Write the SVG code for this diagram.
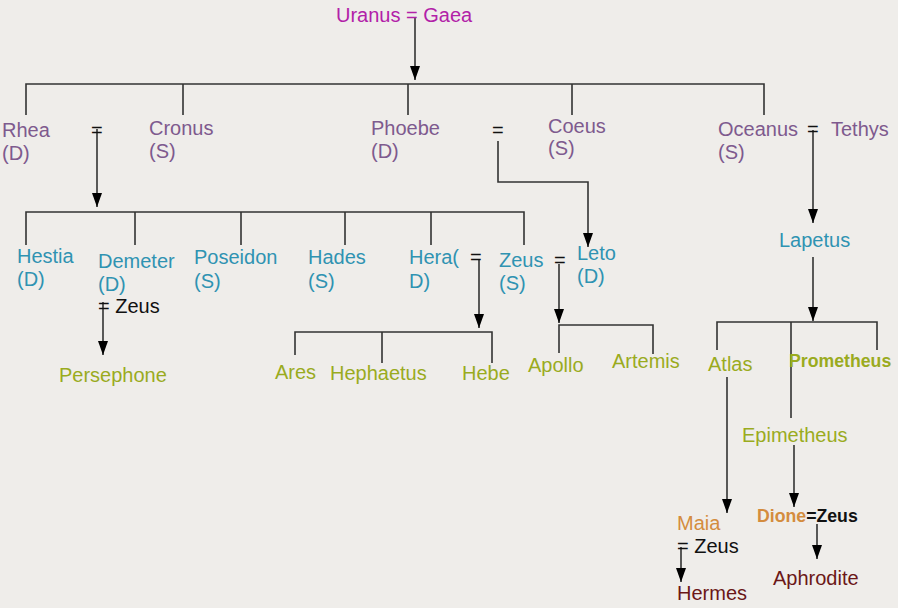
<svg xmlns="http://www.w3.org/2000/svg" width="898" height="608" viewBox="0 0 898 608">
<style>
text{font-family:"Liberation Sans",Arial,sans-serif;font-size:20px}
.g1{fill:#7e5a8e}
.g2{fill:#2f93b2}
.g3{fill:#9aab1e}
.mag{fill:#b221a8}
.blk{fill:#111}
.or{fill:#d48c3e}
.dr{fill:#6b1717}
.b{font-weight:bold;font-size:17.7px}
.c line,.c path{stroke:#333;stroke-width:1.6;fill:none}
.a{marker-end:url(#ah)}
</style>
<defs>
<marker id="ah" viewBox="0 0 14 10" refX="14" refY="5" markerWidth="14" markerHeight="10" markerUnits="userSpaceOnUse" orient="auto">
<path d="M0,0 L14,5 L0,10 z" fill="#000"/>
</marker>
</defs>
<rect width="898" height="608" fill="#efedea"/>
<g id="connectors" class="c">
<line class="a" x1="415" y1="18" x2="415" y2="80"/>
<path d="M26,115 V84 H764 V115 M183,84 V115 M408,84 V115 M572,84 V115"/>
<line class="a" x1="97" y1="129" x2="97" y2="207"/>
<path class="a" d="M498,141 V182 H588 V247"/>
<line class="a" x1="813" y1="130" x2="813" y2="223"/>
<path d="M26,245 V212 H524 V245 M135,212 V245 M241,212 V245 M345,212 V245 M431,212 V245"/>
<line class="a" x1="103" y1="302" x2="103" y2="355"/>
<line class="a" x1="479" y1="260" x2="479" y2="328"/>
<path d="M295,355 V332 H492 V363 M382,332 V363"/>
<line class="a" x1="559" y1="264" x2="559" y2="323"/>
<path d="M559,353 V325 H653 V354"/>
<line class="a" x1="813" y1="257" x2="813" y2="321"/>
<path d="M717,350 V322 H877 V350 M791,322 V418"/>
<line class="a" x1="727" y1="377" x2="727" y2="513"/>
<line class="a" x1="794" y1="445" x2="794" y2="507"/>
<line class="a" x1="681" y1="547" x2="681" y2="582"/>
<line class="a" x1="817" y1="524" x2="817" y2="559"/>
</g>
<g id="uranus-gaea"><text class="mag" x="336" y="22">Uranus = Gaea</text></g>
<g id="rhea"><text class="g1" x="2" y="137">Rhea</text><text class="g1" x="2" y="160">(D)</text></g>
<g id="rhea-eq"><text class="blk" x="91" y="137">=</text></g>
<g id="cronus"><text class="g1" x="149" y="135">Cronus</text><text class="g1" x="149" y="158">(S)</text></g>
<g id="phoebe"><text class="g1" x="371" y="135">Phoebe</text><text class="g1" x="371" y="158">(D)</text></g>
<g id="phoebe-eq"><text class="blk" x="492" y="137">=</text></g>
<g id="coeus"><text class="g1" x="548" y="133">Coeus</text><text class="g1" x="548" y="155">(S)</text></g>
<g id="oceanus"><text class="g1" x="718" y="136">Oceanus</text><text class="g1" x="718" y="159">(S)</text><text class="blk" x="807" y="136">=</text><text class="g1" x="831" y="136">Tethys</text></g>
<g id="hestia"><text class="g2" x="17" y="263">Hestia</text><text class="g2" x="17" y="286">(D)</text></g>
<g id="demeter"><text class="g2" x="98" y="268">Demeter</text><text class="g2" x="98" y="291">(D)</text><text class="blk" x="98" y="313">= Zeus</text></g>
<g id="poseidon"><text class="g2" x="194" y="264">Poseidon</text><text class="g2" x="194" y="288">(S)</text></g>
<g id="hades"><text class="g2" x="308" y="264">Hades</text><text class="g2" x="308" y="288">(S)</text></g>
<g id="hera"><text class="g2" x="409" y="264">Hera(</text><text class="g2" x="409" y="288">D)</text><text class="blk" x="470" y="264">=</text></g>
<g id="zeus"><text class="g2" x="499" y="267">Zeus</text><text class="g2" x="499" y="290">(S)</text><text class="blk" x="554" y="267">=</text></g>
<g id="leto"><text class="g2" x="577" y="260">Leto</text><text class="g2" x="577" y="283">(D)</text></g>
<g id="lapetus"><text class="g2" x="779" y="247">Lapetus</text></g>
<g id="persephone"><text class="g3" x="59" y="382">Persephone</text></g>
<g id="ares"><text class="g3" x="275" y="379">Ares</text></g>
<g id="hephaetus"><text class="g3" x="330" y="380">Hephaetus</text></g>
<g id="hebe"><text class="g3" x="462" y="380">Hebe</text></g>
<g id="apollo"><text class="g3" x="528" y="372">Apollo</text></g>
<g id="artemis"><text class="g3" x="612" y="368">Artemis</text></g>
<g id="atlas"><text class="g3" x="708" y="371">Atlas</text></g>
<g id="prometheus"><text class="g3 b" x="789" y="367">Prometheus</text></g>
<g id="epimetheus"><text class="g3" x="742" y="442">Epimetheus</text></g>
<g id="maia"><text class="or" x="677" y="530">Maia</text><text class="blk" x="677" y="553">= Zeus</text></g>
<g id="dione"><text class="b" x="757" y="522"><tspan class="or">Dione</tspan><tspan class="blk">=Zeus</tspan></text></g>
<g id="hermes"><text class="dr" x="677" y="600">Hermes</text></g>
<g id="aphrodite"><text class="dr" x="773" y="585">Aphrodite</text></g>
</svg>
